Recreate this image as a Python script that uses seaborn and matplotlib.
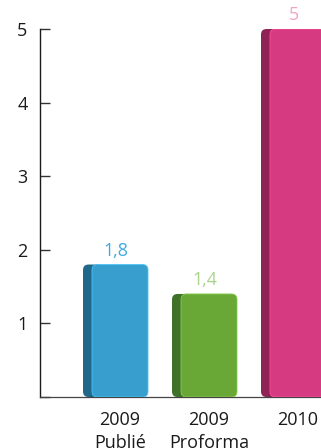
import matplotlib
matplotlib.use("Agg")
import matplotlib.pyplot as plt
import seaborn as sns
from matplotlib.patches import FancyBboxPatch
import matplotlib.colors as mcolors

categories = ["2009\nPublié", "2009\nProforma", "2010"]
values = [1.8, 1.4, 5.0]
value_labels = ["1,8", "1,4", "5"]
front_colors = ["#379ECE", "#69A737", "#D63A80"]
side_colors = ["#1F6889", "#3F7128", "#8F2356"]
label_colors = ["#3DAAE2", "#A9D38A", "#F4A3C6"]
y_ticks = [0, 1, 2, 3, 4, 5]
y_tick_labels = ["", "1", "2", "3", "4", "5"]

sns.set_style("white")
plt.rcParams["font.family"] = ["Open Sans", "DejaVu Sans"]

W, H = 321, 448
fig = plt.figure(figsize=(W / 100, H / 100), dpi=100)
ax = fig.add_axes([40 / W, 51 / H, 281 / W, 368 / H])

px_per_x = 89.0
px_per_y = 368 / 5.0
bar_w = 56 / px_per_x

sns.barplot(x=categories, y=values, hue=categories, palette=front_colors,
            width=bar_w, legend=False, ax=ax, order=categories)

side_w = 9 / px_per_x
r = 5.5 / px_per_x
aspect = px_per_x / px_per_y
for i, p in enumerate(list(ax.patches)):
    x, y, w, h = p.get_x(), p.get_y(), p.get_width(), p.get_height()
    p.set_visible(False)
    side = FancyBboxPatch((x - side_w, y), side_w + 2 * r, h,
                          boxstyle=f"round,pad=0,rounding_size={r}",
                          mutation_aspect=aspect, facecolor=side_colors[i],
                          edgecolor="none", zorder=2)
    ax.add_patch(side)
    front = FancyBboxPatch((x, y), w, h,
                           boxstyle=f"round,pad=0,rounding_size={r}",
                           mutation_aspect=aspect, facecolor=front_colors[i],
                           edgecolor=mcolors.to_hex([min(1, c * 1.15 + 0.05) for c in mcolors.to_rgb(front_colors[i])]),
                           linewidth=0.6, zorder=3)
    ax.add_patch(front)
    cx = x + w / 2 - side_w / 2
    ax.annotate(value_labels[i], (cx, y + h), xytext=(0, 3.5),
                textcoords="offset points", ha="center", va="bottom",
                color=label_colors[i], fontsize=12.8, annotation_clip=False)

ax.set_xlim(-80 / px_per_x, -80 / px_per_x + 281 / px_per_x)
ax.set_ylim(0, 5)
ax.set_yticks(y_ticks)
ax.set_yticklabels(y_tick_labels)
ax.set_xlabel("")
ax.set_ylabel("")

for s in ["top", "right"]:
    ax.spines[s].set_visible(False)
ax.spines["left"].set_color("#1a1a1a")
ax.spines["left"].set_linewidth(1.0)
ax.spines["bottom"].set_color("#444444")
ax.spines["bottom"].set_linewidth(0.9)

ax.tick_params(axis="y", direction="in", length=7.5, width=1.0, color="#333333",
               pad=9, labelsize=13, labelcolor="#1a1a1a", left=True)
ax.tick_params(axis="x", length=0, pad=10, labelsize=13, labelcolor="#1a1a1a")
for t in ax.get_xticklabels():
    t.set_linespacing(1.35)

fig.savefig("out.png", dpi=100)
